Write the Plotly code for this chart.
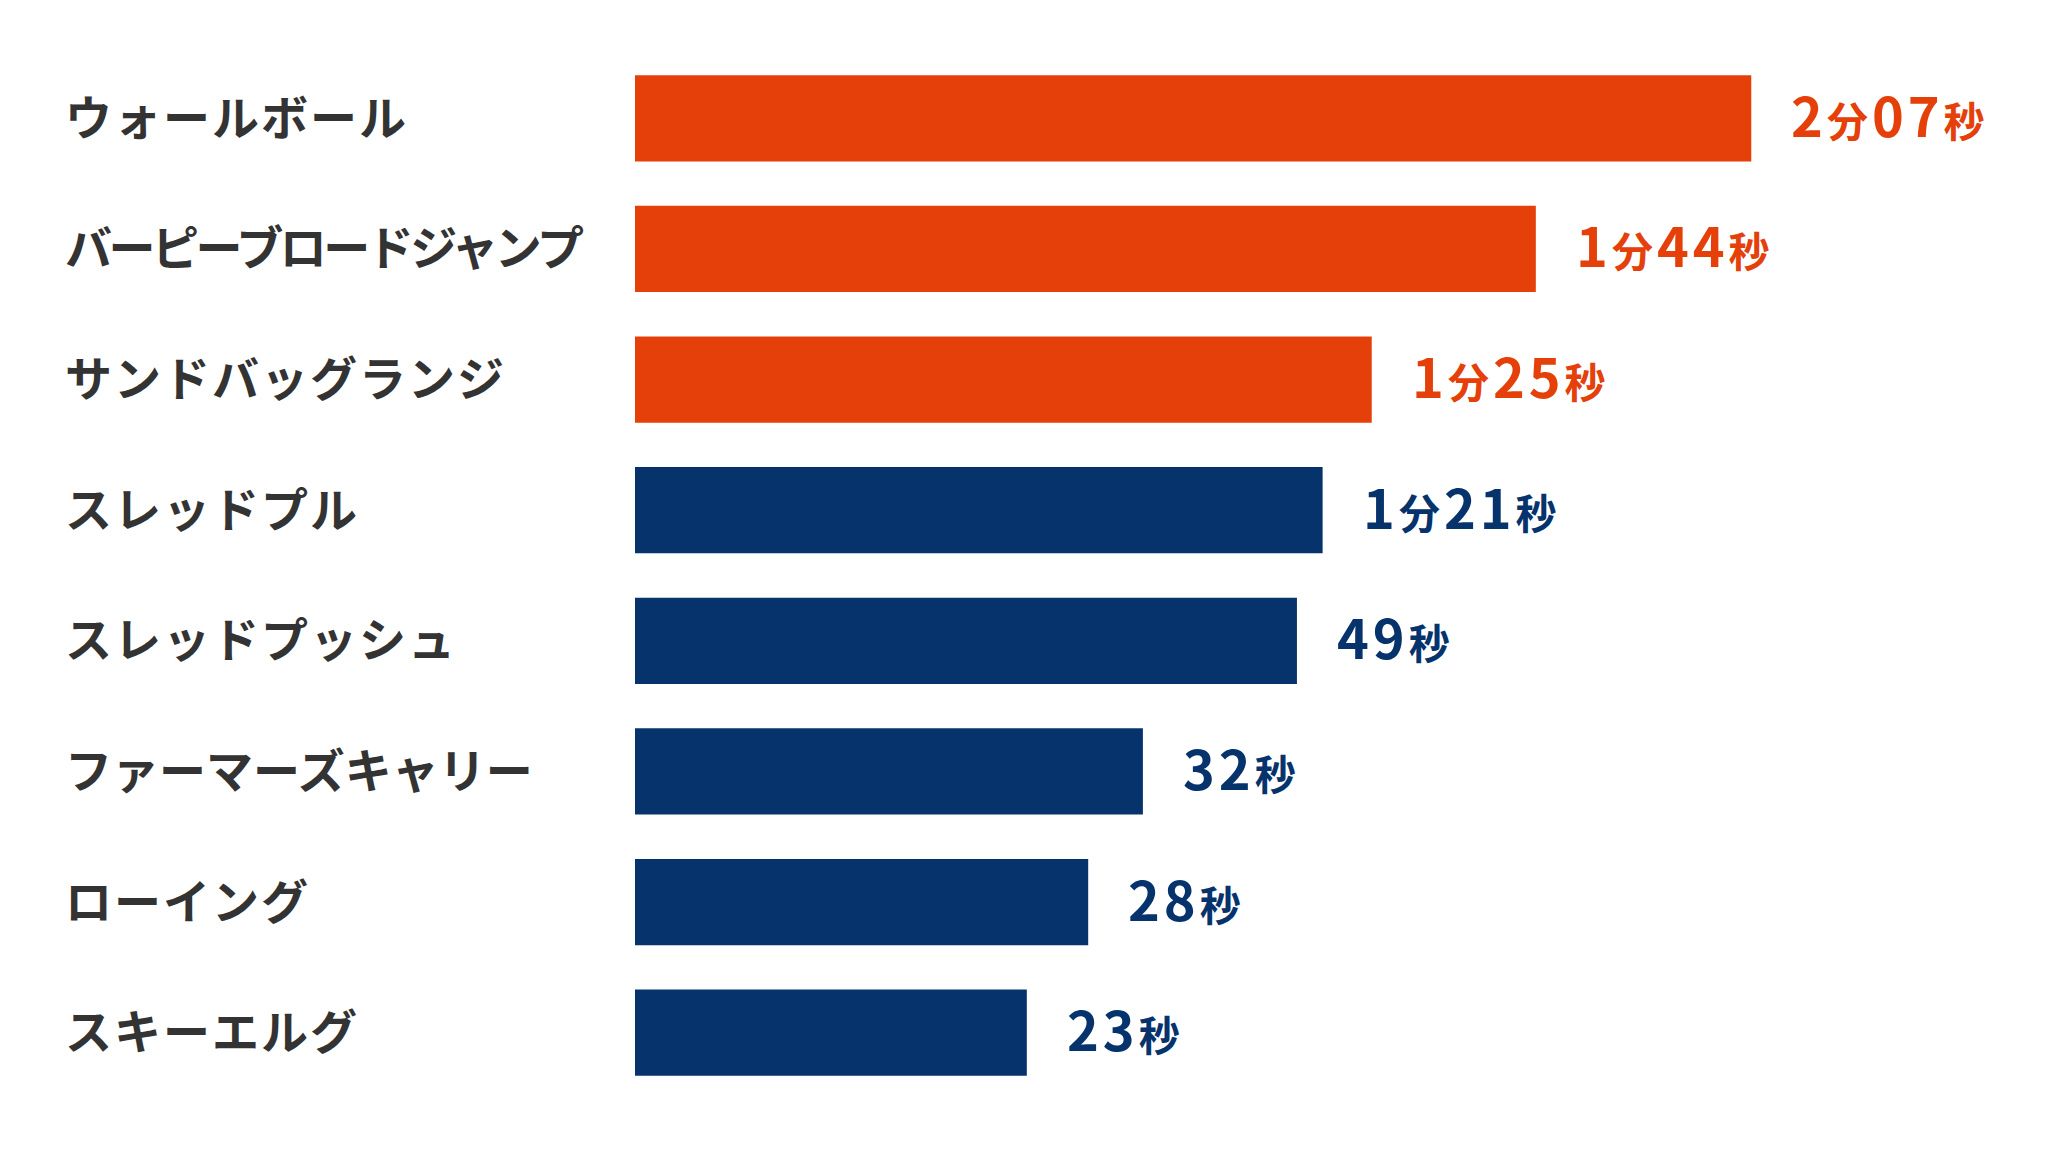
import re
import plotly.graph_objects as go

# events, top to bottom
events = ["ウォールボール", "バーピーブロードジャンプ", "サンドバッグランジ", "スレッドプル",
          "スレッドプッシュ", "ファーマーズキャリー", "ローイング", "スキーエルグ"]
bar_len = [100, 80.7, 66.0, 61.6, 59.3, 45.5, 40.6, 35.1]   # relative bar length
time_txt = ["2分07秒", "1分44秒", "1分25秒", "1分21秒", "49秒", "32秒", "28秒", "23秒"]
top_n = 3

ORANGE = "#E5400A"
NAVY = "#06336B"
colors = [ORANGE if i < top_n else NAVY for i in range(len(events))]

FONT = "Noto Sans CJK JP"


def rich(t):
    # digits big, kanji smaller
    parts = re.findall(r"\d+|\D+", t)
    out = ""
    for p in parts:
        if p.isdigit():
            out += "<span style='font-size:54px;letter-spacing:4px'>" + p + "</span>"
        else:
            out += "<span style='font-size:41px;letter-spacing:4px'>" + p + "</span>"
    return out


fig = go.Figure(go.Bar(
    x=bar_len, y=events, orientation="h",
    marker=dict(color=colors, line=dict(width=0)),
    hoverinfo="skip",
))

for ev, v, t, c in zip(events, bar_len, time_txt, colors):
    fig.add_annotation(x=v, y=ev, xref="x", yref="y", text=rich(t), showarrow=False,
                       xanchor="left", yanchor="middle", xshift=38, yshift=5,
                       font=dict(family=FONT, color=c, size=54, weight="bold"))
    if len(ev) > 10:
        sp = "letter-spacing:-3.5px"
    elif len(ev) > 9:
        sp = "letter-spacing:0px"
    else:
        sp = "letter-spacing:2px"
    fig.add_annotation(x=-0.4025, y=ev, xref="paper", yref="y",
                       text="<span style='" + sp + "'>" + ev + "</span>", showarrow=False,
                       xanchor="left", yanchor="middle", yshift=4,
                       font=dict(family=FONT, color="#333333", size=47, weight="bold"))

fig.update_layout(
    width=2048, height=1152,
    margin=dict(l=627, r=0, t=45, b=62),
    paper_bgcolor="white", plot_bgcolor="white",
    bargap=0.34, showlegend=False,
    xaxis=dict(range=[0, 127.3], visible=False),
    yaxis=dict(autorange="reversed", showticklabels=False, showgrid=False, zeroline=False),
)

fig.write_html("out.html")
